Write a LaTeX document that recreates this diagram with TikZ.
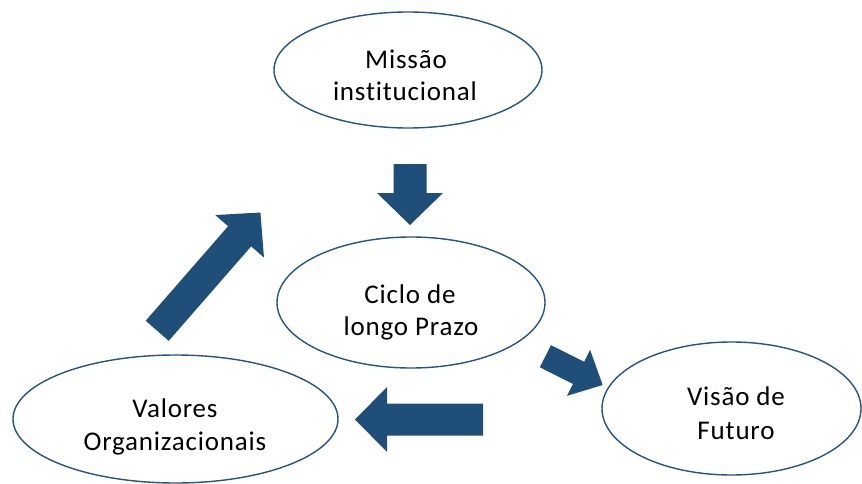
\documentclass[tikz,border=0pt]{standalone}
\usepackage{fontspec}
\setmainfont[LetterSpace=3,Ligatures={NoCommon}]{Carlito}
\usetikzlibrary{shapes.geometric}
\definecolor{arrowblue}{RGB}{31,78,121}
\definecolor{lineblue}{RGB}{38,84,128}
\newcommand\blockarrow[8]{% name, x, y, angle, length, shaft half, head half, head length
  \begin{scope}[shift={(#2,#3)},rotate=#4]
    \fill[arrowblue] (0,-#6) -- ({#5-#8},-#6) -- ({#5-#8},-#7) -- (#5,0) -- ({#5-#8},#7) -- ({#5-#8},#6) -- (0,#6) -- cycle;
    \coordinate (#1) at (#5,0);
  \end{scope}}
\begin{document}
\begin{tikzpicture}[x=1pt,y=-1pt,
  oval/.style={draw=lineblue,line width=1.4pt,ellipse,inner sep=0pt,fill=white},
  txt/.style={font=\fontsize{27}{31}\selectfont,anchor=base,inner sep=0pt}]
\useasboundingbox (0,0) rectangle (862,484);
% ellipses
\node[oval,minimum width=268pt,minimum height=116pt] (mis) at (408,70) {};
\node[oval,minimum width=268pt,minimum height=131pt] (cic) at (411,302.5) {};
\node[oval,minimum width=259pt,minimum height=133pt] (vis) at (731.5,408.5) {};
\node[oval,minimum width=325pt,minimum height=128pt] (val) at (175.5,419) {};
% texts
\node[txt] (t1a) at (406,69) {Missão};
\node[txt] (t1b) at (405,101) {institucional};
\node[txt] (t2a) at (410,303) {Ciclo de};
\node[txt] (t2b) at (411,335) {longo Prazo};
\node[txt] (t3a) at (736,405) {Visão de};
\node[txt] (t3b) at (736,439) {Futuro};
\node[txt] (t4a) at (175,417) {Valores};
\node[txt] (t4b) at (175,450) {Organizacionais};
% block arrows
\blockarrow{a1}{410}{164}{-90}{61}{16.5}{33}{32}
\blockarrow{a2}{545.4}{356.2}{-26.7}{64.1}{12.4}{25.7}{27}
\blockarrow{a3}{483}{419.5}{180}{128}{16}{32.5}{32}
\blockarrow{a4}{157.2}{330.8}{48.9}{157}{15.3}{32.3}{31.6}
\end{tikzpicture}
\end{document}
